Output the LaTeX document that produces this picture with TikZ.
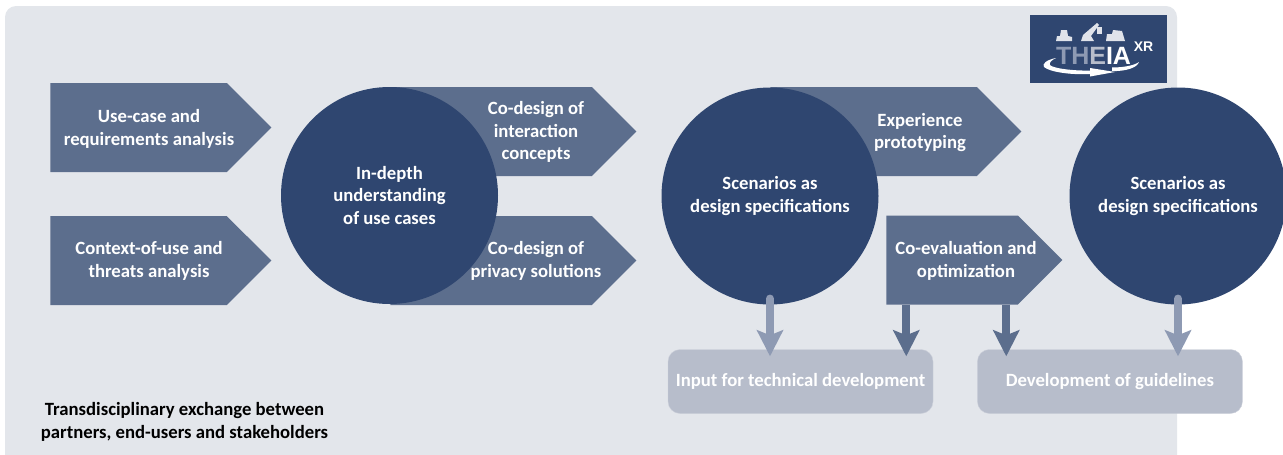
\documentclass[tikz,border=0pt]{standalone}
\usepackage{fontspec}
\setmainfont{Carlito}
\newfontfamily\logofont{Liberation Sans}
\usetikzlibrary{arrows.meta, positioning, shapes.symbols}
\definecolor{PanelGrey}{HTML}{E3E6EB}
\definecolor{SlateBlue}{HTML}{5C6E8D}
\definecolor{DeepBlue}{HTML}{2F4670}
\definecolor{PaleBlue}{HTML}{B7BDCB}
\definecolor{MidBlue}{HTML}{8E9AB3}
\tikzset{%
  step_arrow/.style={%
    signal,%
    signal to=east,%
    signal from=nowhere,%
    signal pointer angle=90,%
    fill=SlateBlue,%
    inner sep=0pt,%
    outer sep=0pt,%
    minimum height=89pt,%
  },
  step_text/.style={%
    text=white,%
    font={\fontsize{18.7}{22.7}\selectfont\bfseries},%
    align=center,%
  },
  stage_circle/.style={%
    circle,%
    fill=DeepBlue,%
    text=white,%
    inner sep=0pt,%
    minimum size=217pt,%
    font={\fontsize{18.7}{22.7}\selectfont\bfseries},%
    align=center,%
  },
  output_block/.style={%
    rectangle,%
    rounded corners=12pt,%
    fill=PaleBlue,%
    draw=PaleBlue!70!white,%
    minimum width=265pt,%
    minimum height=64pt,%
    text=white,%
    font={\fontsize{18.7}{22.7}\selectfont\bfseries},%
    align=center,%
  },
  feed_path/.style={%
    -{Stealth[length=26pt, width=26pt, inset=5pt]},%
    line width=8pt,%
    shorten >=-7pt,%
  },
  logo_icon/.style={%
    fill=white!85!DeepBlue,%
  },
}

\begin{document}
\begin{tikzpicture}[x=1pt, y=-1pt]

    \useasboundingbox (0, 0) rectangle (1283, 455);
    \node [fill=PanelGrey, rounded corners=11pt, minimum width=1172pt, minimum height=460pt,
      inner sep=0pt] (panel) at (591, 236) {};

    \node [step_arrow, minimum width=221pt] (UseCase) at (138.5, 127.5) {};
    \node [step_arrow, minimum width=221pt, below = 44pt of UseCase] (Context) {};
    \node [step_arrow, minimum width=246pt] (Interact) at (491, 131.5) {};
    \node [step_arrow, minimum width=246pt, below = 40pt of Interact] (Privacy) {};
    \node [step_arrow, minimum width=251pt] (Prototype) at (873.5, 131.5) {};
    \node [step_arrow, minimum width=176pt] (Evaluate) at (952, 260) {};

    \node [stage_circle] (InDepth) at (389.5, 195.5) {In-depth\\understanding\\of use cases};
    \node [stage_circle] (ScenarioA) at (770, 196) {Scenarios as\\design specifications};
    \node [stage_circle] (ScenarioB) at (1178, 196) {Scenarios as\\design specifications};

    \node [step_text] (UseCaseText) at (149, 129) {Use-case and\\requirements analysis};
    \node [step_text] (ContextText) at (149, 261) {Context-of-use and\\threats analysis};
    \node [step_text] (InteractText) at (536, 132) {Co-design of\\interaction\\concepts};
    \node [step_text] (PrivacyText) at (536, 261) {Co-design of\\privacy solutions};
    \node [step_text] (PrototypeText) at (920, 132.5) {Experience\\prototyping};
    \node [step_text] (EvaluateText) at (966, 261) {Co-evaluation and\\optimization};

    \node [output_block] (Input) at (800.5, 381.5) {Input for technical development};
    \node [output_block, right = 44pt of Input] (Guidelines) {Development of guidelines};

    \coordinate (tap_input) at ([xshift=20pt]Evaluate.south west);
    \coordinate (tap_guide) at ([xshift=120pt]Evaluate.south west);

    \draw [feed_path, color=MidBlue]
      ([yshift=6pt]ScenarioA.south)
      --
      (ScenarioA.south |- Input.north);
    \draw [line cap=round, line width=8pt, color=MidBlue]
      ([yshift=6pt]ScenarioA.south) -- +(0, -0.1);
    \draw [feed_path, color=SlateBlue]
      (tap_input)
      --
      (tap_input |- Input.north);
    \draw [feed_path, color=SlateBlue]
      (tap_guide)
      --
      (tap_guide |- Guidelines.north);
    \draw [feed_path, color=MidBlue]
      ([yshift=6pt]ScenarioB.south)
      --
      (ScenarioB.south |- Guidelines.north);
    \draw [line cap=round, line width=8pt, color=MidBlue]
      ([yshift=6pt]ScenarioB.south) -- +(0, -0.1);

    \node [font={\fontsize{18.7}{22.7}\selectfont\bfseries}, align=center] (Exchange) at (184.5, 422)
      {Transdisciplinary exchange between\\partners, end-users and stakeholders};

    % logo
    \node [fill=DeepBlue, minimum width=137pt, minimum height=68pt, inner sep=0pt] (Logo) at (1098.5, 49) {};
    \node [font={\logofont\fontsize{25}{25}\selectfont\bfseries}, inner sep=0pt] (LogoName) at (1093.5, 55.5)
      {\textcolor{MidBlue}{TH}\textcolor{PaleBlue}{E}\textcolor{white}{IA}};
    \node [font={\logofont\fontsize{14}{14}\selectfont\bfseries}, text=white, inner sep=0pt] (LogoXR) at (1143.5, 47) {XR};
    \fill [white] (1056, 58) .. controls (1046, 60) and (1042, 64) .. (1044, 67)
      .. controls (1050, 72) and (1070, 75) .. (1090, 74) -- (1090, 76.5) -- (1115, 72) -- (1090, 68) -- (1090, 70.5)
      .. controls (1072, 71) and (1052, 68) .. (1050, 65) .. controls (1049, 62) and (1052, 60) .. (1056, 58) -- cycle;
    \fill [white] (1112, 67.5) .. controls (1125, 67.5) and (1135, 65) .. (1139, 62)
      .. controls (1137, 68) and (1125, 71.5) .. (1112, 71) -- cycle;
    \fill [logo_icon] (1056, 41) -- (1057, 36) -- (1060, 36) -- (1061, 30) -- (1067, 30) -- (1068, 36) -- (1072, 37) -- (1072, 41) -- cycle;
    \fill [logo_icon] (1081, 41) -- (1083, 35) -- (1097, 23) -- (1099, 25) -- (1091, 36) -- (1094, 41) -- cycle;
    \fill [logo_icon] (1097, 27) rectangle (1102, 34);
    \fill [logo_icon] (1106, 41) -- (1107, 34) -- (1112, 34) -- (1113, 30) -- (1122, 31) -- (1125, 41) -- cycle;

  \end{tikzpicture}
\end{document}
